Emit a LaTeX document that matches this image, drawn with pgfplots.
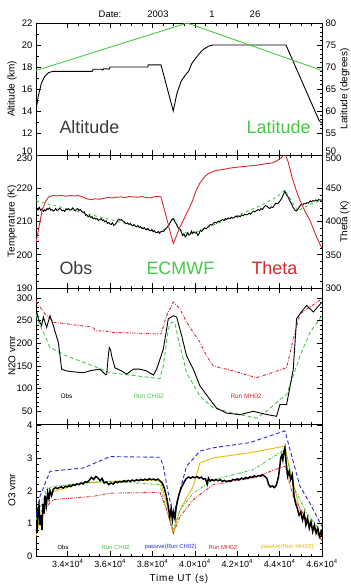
\documentclass[border=0pt]{standalone}
\usepackage{fontspec}
\setmainfont{Liberation Sans}
\usepackage{pgfplots}
\pgfplotsset{compat=1.18}

\definecolor{idlgreen}{RGB}{70,200,70}
\definecolor{idlred}{RGB}{215,40,45}
\definecolor{idlblue}{RGB}{40,40,210}
\definecolor{idlyellow}{RGB}{235,185,0}
\definecolor{idlgray}{RGB}{60,60,60}

\newcommand\lblfont{\fontsize{8.5}{9}\selectfont\addfontfeatures{LetterSpace=12}}

\pgfplotsset{
  panel/.style={
    scale only axis, width=286bp,
    xmin=32500, xmax=46000,
    xtick={34000,36000,38000,40000,42000,44000,46000},
    minor x tick num=3, xticklabels={},
    tick align=inside, major tick length=5bp, minor tick length=2.5bp,
    every tick/.style={black, line width=0.6bp},
    axis line style={line width=1bp},
    ticklabel style={font=\fontsize{9.5}{10}\selectfont},
    /pgf/number format/assume math mode=true,
    label style={font=\lblfont},
    every axis y label/.style={at={(axis description cs:-0.084,0.5)}, rotate=90, anchor=center},
    scaled ticks=false, clip=true,
  },
  rightaxis/.style={
    axis y line*=right, hide x axis,
    every axis y label/.style={at={(axis description cs:1.08,0.5)}, rotate=90, anchor=center},
  },
  % edge labels shared by two stacked panels sit slightly apart
  raisedtick/.style={extra y tick style={yticklabel style={yshift=4bp, inner ysep=0pt}}},
  loweredtick/.style={extra y tick style={yticklabel style={yshift=-3bp, inner ysep=0pt}}},
}

\begin{document}
\begin{tikzpicture}
\useasboundingbox (0,0) rectangle (351bp,-585bp);

% header line
\begin{scope}[font=\fontsize{9.5}{10}\selectfont]
\node at (110bp,-14bp) {Date:};
\node at (158bp,-14bp) {2003};
\node at (212bp,-14bp) {1};
\node at (255bp,-14bp) {26};
\end{scope}

% ---------- altitude / latitude ----------
\begin{axis}[panel, raisedtick, at={(36bp,-23bp)}, anchor=north west, height=132bp,
  ymin=10, ymax=22, ytick={12,14,...,22}, extra y ticks={10}, minor y tick num=1, ytick pos=left,
  ylabel={Altitude (km)}]
\addplot[black, line width=0.9bp] coordinates {
 (32500,14.0) (32600,15.3) (32750,16.5) (32900,17.1) (33100,17.5) (33300,17.6)
 (35150,17.6) (35200,17.8) (35600,17.8) (35650,17.72) (35700,17.85) (35950,17.8)
 (36000,18.0) (37780,18.0) (37800,18.2) (38400,18.2) (38980,14.0) (39150,15.6)
 (39350,16.7) (39600,17.4) (39700,17.6) (39850,18.3) (40000,18.7) (40200,19.2)
 (40400,19.6) (40650,19.9) (40850,20.0) (44300,20.0) (45870,13.1) (46000,12.9)};
\end{axis}
\begin{axis}[panel, rightaxis, raisedtick, at={(36bp,-23bp)}, anchor=north west, height=132bp,
  ymin=50, ymax=80, ytick={55,60,...,80}, extra y ticks={50}, minor y tick num=4,
  ylabel={Latitude (degrees)}]
\addplot[idlgreen, line width=0.9bp] coordinates {(32500,69.2) (39630,80) (46000,69.2)};
\end{axis}
\node[anchor=base west, font=\fontsize{18}{18}\selectfont, idlgray] at (56bp,-133bp) {Altitude};
\node[anchor=base east, font=\fontsize{18}{18}\selectfont, idlgreen] at (314bp,-133bp) {Latitude};

% ---------- temperature / theta ----------
\begin{axis}[panel, loweredtick, at={(36bp,-155bp)}, anchor=north west, height=133bp,
  ymin=190, ymax=230, ytick={190,200,...,220}, extra y ticks={230}, minor y tick num=4, ytick pos=left,
  ylabel={Temperature (K)}]
\addplot[idlgreen, line width=0.9bp, dashed] coordinates {
 (32500,216.2) (38350,206.8) (38700,208.2) (38980,211.2) (39300,207.5) (39700,206.3)
 (39900,206.5) (40500,208) (41800,211.3) (43000,214.5) (43900,217.5) (44250,219.5)
 (44850,213.2) (45400,215) (46000,216.5)};
\addplot[black, line width=0.9bp] coordinates {
 (32500,212.8) (32540,213.9) (32600,213.5) (32650,214.3) (32720,213.4) (32790,213.8)
 (32850,213.0) (32900,213.5) (32960,213.2) (33020,213.9) (33070,213.6) (33140,214.1)
 (33200,213.4) (33250,213.6) (33320,213.1) (33380,213.4) (33430,213.9) (33500,213.3)
 (33560,213.5) (33610,214.0) (33680,213.6) (33740,213.2) (33800,213.4) (33850,213.0)
 (33920,213.7) (33970,213.5) (34040,213.9) (34100,213.4) (34170,213.6) (34230,214.1)
 (34280,213.7) (34350,213.2) (34400,213.6) (34470,213.9) (34520,213.3) (34590,213.6)
 (34650,213.1) (34720,212.7) (34780,212.9) (34840,211.9) (34890,212.1) (34960,211.4)
 (35020,211.8) (35090,211.2) (35140,211.5) (35200,210.8) (35270,211.1) (35330,210.7)
 (35380,210.9) (35450,210.3) (35510,210.6) (35570,210.9) (35630,210.3) (35690,210.5)
 (35750,209.9) (35820,210.2) (35870,209.4) (35930,209.7) (35990,209.3) (36050,209.1)
 (36110,209.6) (36170,208.8) (36230,209.1) (36290,209.6) (36350,210.3) (36410,210.7)
 (36470,210.4) (36530,210.6) (36590,210.2) (36650,210.0) (36710,209.6) (36770,209.3)
 (36830,209.6) (36890,209.1) (36950,209.4) (37010,209.0) (37070,208.7) (37130,209.1)
 (37190,208.6) (37250,208.4) (37310,208.8) (37370,208.2) (37430,208.5) (37490,208.0)
 (37550,207.8) (37610,208.2) (37670,207.6) (37730,207.5) (37790,207.9) (37850,207.3)
 (37910,207.2) (37970,207.6) (38030,206.9) (38090,207.2) (38150,206.7) (38210,206.6)
 (38270,207.0) (38330,206.5) (38390,206.9) (38450,207.1) (38520,207.0) (38600,207.7)
 (38680,208.2) (38760,208.8) (38840,209.8) (38920,210.6) (38980,210.9) (39050,209.9)
 (39120,209.3) (39180,208.4) (39240,207.9) (39300,207.7) (39360,206.8) (39420,205.8)
 (39480,206.3) (39540,205.4) (39600,205.8) (39660,206.6) (39720,205.9) (39780,206.2)
 (39840,207.1) (39900,206.4) (39960,206.9) (40020,206.5) (40080,206.7) (40140,205.8)
 (40200,206.4) (40260,207.4) (40320,207.0) (40390,207.6) (40460,208.1) (40530,207.8)
 (40600,208.2) (40670,208.7) (40740,209.1) (40810,208.9) (40880,209.5) (40950,209.8)
 (41020,209.5) (41090,210.1) (41160,210.0) (41230,210.3) (41300,210.6) (41370,210.3)
 (41440,210.9) (41510,210.6) (41580,211.1) (41650,210.8) (41720,211.3) (41790,211.0)
 (41860,211.2) (41930,211.6) (42000,211.3) (42070,211.7) (42140,211.4) (42210,212.0)
 (42280,211.7) (42350,212.2) (42420,212.0) (42490,212.1) (42560,212.5) (42630,212.2)
 (42700,212.8) (42770,213.1) (42840,212.9) (42910,213.3) (42980,213.6) (43050,213.3)
 (43120,213.9) (43190,213.6) (43260,214.3) (43330,214.8) (43400,214.6) (43470,214.2)
 (43540,213.9) (43610,214.4) (43680,214.2) (43750,214.9) (43820,215.5) (43890,215.3)
 (43960,215.7) (44030,216.3) (44100,217.0) (44180,218.2) (44250,219.1) (44320,218.0)
 (44400,217.4) (44480,216.2) (44560,215.3) (44640,214.2) (44720,213.4) (44800,213.2)
 (44870,213.8) (44940,214.5) (45010,215.1) (45080,214.9) (45150,215.4) (45220,215.3)
 (45290,215.7) (45360,215.5) (45430,216.2) (45500,215.9) (45570,216.3) (45640,216.1)
 (45710,216.5) (45780,216.2) (45850,216.6) (45920,216.4) (46000,216.5)};
\end{axis}
\begin{axis}[panel, rightaxis, loweredtick, at={(36bp,-155bp)}, anchor=north west, height=133bp,
  ymin=300, ymax=500, ytick={300,350,...,450}, extra y ticks={500}, minor y tick num=4,
  ylabel={Theta (K)}]
\addplot[idlred, line width=0.9bp] coordinates {
 (32500,368) (32600,385) (32700,402) (32800,418) (32950,430) (33100,437) (33300,439)
 (33500,438.5) (33700,439.5) (33900,438) (34100,439) (34300,438.5) (34500,439)
 (34700,437) (34900,434) (35100,433) (35300,434) (35500,433.5) (35700,435) (35900,436)
 (36100,435.5) (36300,436.5) (36500,437) (36700,436) (36900,437.5) (37100,437)
 (37300,436.5) (37500,437.5) (37700,436) (37900,435.5) (38100,437.5) (38300,438)
 (38400,437) (38980,367) (39150,380) (39300,392) (39500,405) (39700,418) (39850,428)
 (40050,446) (40240,458) (40450,467) (40630,472) (40850,475) (41030,477) (41300,478)
 (41600,480) (41810,481) (42100,482) (42400,483) (42700,484) (43000,485) (43390,487)
 (43650,488) (43860,491) (44050,495) (44250,502) (44400,490) (44600,465) (44800,445)
 (44960,432) (45200,415) (45430,402) (45700,380) (45900,366) (46000,360)};
\end{axis}
\begin{scope}[font=\fontsize{18}{18}\selectfont]
\node[anchor=base west, idlgray] at (56bp,-274bp) {Obs};
\node[anchor=base west, idlgreen] at (143bp,-274bp) {ECMWF};
\node[anchor=base west, idlred] at (248bp,-274bp) {Theta};
\end{scope}

% ---------- N2O ----------
\begin{axis}[panel, at={(36bp,-288bp)}, anchor=north west, height=136bp,
  ymin=22, ymax=322, ytick={50,100,...,300}, minor y tick num=4,
  ylabel={N2O vmr}]
\addplot[idlred, line width=0.9bp, dash pattern=on 3bp off 1.5bp on 0.8bp off 1.5bp] coordinates {
 (32500,292.6) (32689,280) (32925,265) (33161,254) (33318,246.6) (33947,243)
 (35206,235.5) (35290,228) (35992,226) (36100,224) (36937,223) (38352,220.6)
 (38400,220.5) (38666,261) (38981,291) (39296,276) (39610,246.6) (39925,224)
 (40240,202) (40554,172) (40868,150) (41812,139) (42913,124) (44329,146)
 (44644,209) (44958,265) (45431,280) (46000,298.5)};
\addplot[idlgreen, line width=0.9bp, dash pattern=on 4bp off 2.5bp] coordinates {
 (32500,265) (32610,247) (32846,225) (33161,191) (33947,172) (35206,150) (35992,135)
 (37094,129) (38352,122) (38509,150) (38745,232) (38900,246.6) (39050,245)
 (39217,209.5) (39610,135) (40240,83.4) (40868,57.4) (41812,46) (42913,35)
 (43385,50) (44014,76) (44329,87) (44644,128) (44958,172) (45431,224) (46000,261)};
\addplot[black, line width=0.9bp] coordinates {
 (32500,276) (32610,254) (32767,239) (32846,258) (33003,235) (33161,261) (33318,239)
 (33554,202) (33711,143) (33947,139) (34300,137) (34734,135) (35100,140) (35520,143)
 (35780,131) (35835,131) (35913,172) (35960,191) (36020,186) (36071,172) (36228,146)
 (36500,140) (36779,132) (37094,143) (37409,143) (37723,139) (38037,130) (38195,143)
 (38509,187) (38745,254) (38981,261) (39139,258) (39374,217) (39610,172) (39925,143)
 (40240,106) (40711,76) (41026,57) (41498,46) (42127,42.5) (42756,50) (43385,43)
 (43857,39) (44014,65) (44329,65) (44644,143) (44801,254) (44958,265) (45273,283.7)
 (45588,269) (46000,291)};
\end{axis}
\begin{scope}[font=\fontsize{6.5}{7}\selectfont]
\node[anchor=west] at (57bp,-396bp) {Obs};
\node[anchor=west, idlgreen] at (130bp,-396bp) {Run CH02};
\node[anchor=west, idlred] at (227bp,-396bp) {Run MH02};
\end{scope}

% ---------- O3 ----------
\begin{axis}[panel, at={(36bp,-424bp)}, anchor=north west, height=132bp,
  ymin=0, ymax=4.05, ytick={0,1,2,3,4}, minor y tick num=4,
  xticklabels={3.4×10\textsuperscript{4},3.6×10\textsuperscript{4},3.8×10\textsuperscript{4},4.0×10\textsuperscript{4},4.2×10\textsuperscript{4},4.4×10\textsuperscript{4},4.6×10\textsuperscript{4}},
  xticklabel style={font=\fontsize{9}{10}\selectfont},
  xlabel={Time UT (s)}, xlabel style={font=\fontsize{10}{11}\selectfont\addfontfeatures{LetterSpace=8}},
  ylabel={O3 vmr}]
\addplot[idlblue, line width=0.9bp, dash pattern=on 4bp off 2.5bp] coordinates {
 (32500,1.22) (32689,1.83) (33161,2.6) (34734,2.7) (35992,3.05) (38352,3.03)
 (38509,2.76) (38745,1.93) (38981,1.22) (39217,1.83) (39610,2.76) (40240,3.22)
 (40868,3.32) (42599,3.48) (44250,3.84) (44958,2.14) (45431,1.62) (46000,0.9)};
\addplot[idlyellow, line width=0.9bp] coordinates {
 (32500,0.6) (32846,1.62) (33318,1.98) (34734,2.24) (35992,2.29) (38352,2.34)
 (38666,1.62) (38981,0.7) (39296,1.42) (39925,2.14) (40240,2.86) (40868,3.01)
 (42599,3.17) (44250,3.37) (44486,2.65) (44958,1.42) (46000,0.49)};
\addplot[idlgreen, line width=0.9bp, dash pattern=on 3bp off 1.5bp on 0.8bp off 1.5bp] coordinates {
 (32500,1.11) (33003,2.03) (33318,2.14) (34734,2.24) (35992,2.29) (38352,2.19)
 (38666,1.42) (38981,0.8) (39296,1.42) (39925,1.93) (40868,2.34) (42756,2.65)
 (44250,3.27) (44644,2.14) (45273,1.32) (46000,0.7)};
\addplot[idlred, line width=0.9bp, dash pattern=on 3bp off 1.2bp on 0.8bp off 1.2bp on 0.8bp off 1.2bp] coordinates {
 (32500,0.9) (33003,1.52) (33318,1.73) (35206,1.83) (35992,1.93) (38352,1.95)
 (38666,1.42) (38981,0.7) (39296,1.21) (39925,1.73) (40868,2.19) (42756,2.4)
 (44250,2.76) (44644,1.83) (45273,1.11) (46000,0.49)};
\addplot[black, line width=1.5bp] coordinates {
 (32500,1.0) (32547,0.7) (32594,1.35) (32642,1.55) (32689,0.95) (32736,1.25) (32783,0.8)
 (32830,1.6) (32878,1.3) (32925,1.85) (32988,1.55) (33050,1.95) (33113,1.75) (33161,2.0)
 (33239,1.85) (33318,2.05) (33420,2.1) (33500,2.07) (33600,2.1) (33700,2.12) (33780,2.08)
 (33880,2.14) (33960,2.12) (34060,2.16) (34140,2.13) (34240,2.19) (34330,2.17) (34420,2.21)
 (34520,2.19) (34620,2.24) (34720,2.21) (34820,2.28) (34920,2.26) (35020,2.33) (35120,2.41)
 (35220,2.35) (35330,2.44) (35430,2.39) (35520,2.31) (35620,2.38) (35720,2.24) (35830,2.27)
 (35940,2.19) (36040,2.24) (36150,2.21) (36250,2.28) (36350,2.25) (36450,2.29) (36550,2.27)
 (36650,2.31) (36750,2.28) (36850,2.32) (36950,2.29) (37050,2.33) (37150,2.3) (37250,2.34)
 (37350,2.31) (37450,2.35) (37550,2.32) (37650,2.36) (37750,2.33) (37850,2.37) (37950,2.34)
 (38050,2.36) (38150,2.33) (38250,2.36) (38350,2.3) (38450,2.25) (38550,2.1) (38650,1.85)
 (38750,1.5) (38820,1.2) (38880,1.45) (38940,1.1) (39000,1.35) (39060,1.15) (39120,1.5)
 (39200,1.75) (39280,1.95) (39360,2.1) (39440,2.2) (39520,2.3) (39600,2.38) (39700,2.42)
 (39800,2.39) (39900,2.43) (40000,2.4) (40100,2.44) (40200,2.39) (40300,2.42) (40400,2.36)
 (40500,2.37) (40580,2.2) (40640,2.39) (40720,2.3) (40800,2.34) (40900,2.31) (41000,2.35)
 (41100,2.31) (41200,2.34) (41300,2.29) (41400,2.32) (41500,2.28) (41600,2.31) (41700,2.3)
 (41800,2.35) (41900,2.33) (42000,2.37) (42100,2.34) (42200,2.39) (42300,2.36) (42400,2.41)
 (42500,2.38) (42600,2.43) (42700,2.41) (42800,2.46) (42900,2.43) (43000,2.47) (43100,2.45)
 (43200,2.49) (43300,2.44) (43400,2.38) (43480,2.2) (43560,2.12) (43650,2.15) (43750,2.1)
 (43850,2.18) (43950,2.45) (44000,2.7) (44050,3.0) (44100,3.1) (44150,2.95) (44200,3.2)
 (44250,3.32) (44300,2.9) (44380,2.45) (44450,2.6) (44520,2.35) (44600,2.5) (44680,1.85)
 (44760,1.6) (44840,1.45) (44920,1.25) (45000,1.35) (45080,1.1) (45160,1.3) (45240,0.95)
 (45320,1.15) (45400,0.85) (45480,1.05) (45560,0.75) (45640,0.95) (45720,0.7) (45800,0.85)
 (45880,0.6) (45960,0.75) (46000,0.6)};
\end{axis}
\begin{scope}[font=\fontsize{6}{7}\selectfont]
\node[anchor=west] at (54bp,-547bp) {Obs};
\node[anchor=west, idlgreen] at (98bp,-547bp) {Run CH02};
\node[anchor=west, idlblue] at (141bp,-547bp) {passive(Run CH02)};
\node[anchor=west, idlred] at (205bp,-547bp) {Run MH02};
\node[anchor=west, idlyellow] at (257bp,-547bp) {passive(Run MH02)};
\end{scope}
\end{tikzpicture}
\end{document}
